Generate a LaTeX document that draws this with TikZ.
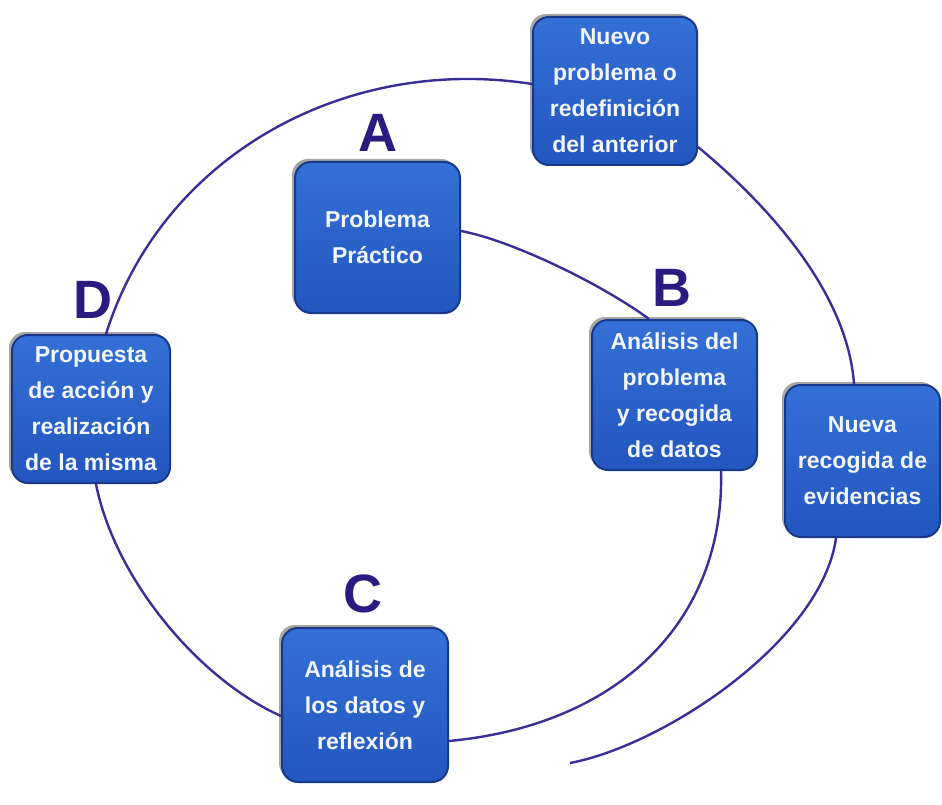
\documentclass[tikz,border=0pt]{standalone}
\usepackage{fontspec}
\setmainfont{Liberation Sans}
\usetikzlibrary{calc,shadows}
\definecolor{boxtop}{HTML}{3470D6}
\definecolor{boxbot}{HTML}{2356BE}
\definecolor{boxedge}{HTML}{18398A}
\definecolor{linec}{HTML}{3A2E98}
\definecolor{letterc}{HTML}{2B1A80}
\definecolor{txtc}{HTML}{F2F6FF}
\begin{document}
\begin{tikzpicture}[x=1pt,y=-1pt,
  stepbox/.style={rectangle, rounded corners=16pt, top color=boxtop, bottom color=boxbot,
    draw=boxedge, line width=2pt, text=txtc, align=center, inner sep=0pt,
    font=\fontsize{23}{36}\selectfont\bfseries,
    drop shadow={shadow xshift=-3pt, shadow yshift=3pt, fill=gray!70, opacity=1}},
  letter/.style={text=letterc, inner sep=0pt, font=\fontsize{54}{54}\selectfont\bfseries},
  conn/.style={draw=linec, line width=2.4pt}]
\useasboundingbox[fill=white] (0,0) rectangle (942,805);

% boxes
\node[stepbox, minimum width=165pt, minimum height=151pt] (A) at (377.5,237.5) {Problema\\Práctico};
\node[stepbox, minimum width=164pt, minimum height=148pt] (N) at (615,91) {Nuevo\\problema o\\redefinición\\del anterior};
\node[stepbox, minimum width=165pt, minimum height=150pt] (B) at (674.5,395) {Análisis del\\problema\\y recogida\\de datos};
\node[stepbox, minimum width=155pt, minimum height=152pt] (E) at (862.5,461) {Nueva\\recogida de\\evidencias};
\node[stepbox, minimum width=158pt, minimum height=148pt] (D) at (91,409) {Propuesta\\de acción y\\realización\\de la misma};
\node[stepbox, minimum width=166pt, minimum height=154pt] (C) at (365,705) {Análisis de\\los datos y\\reflexión};

% letters
\node[letter] (LA) at (378,133) {A};
\node[letter] (LB) at (672,288) {B};
\node[letter] (LC) at (363,594) {C};
\node[letter] (LD) at (93,300) {D};

% free end of the outer spiral
\coordinate (tail) at (570,763);

% inner cycle
\draw[conn] ($(A.north east)+(0,70)$) .. controls (510,240) and (600,283) .. ($(B.north west)+(58,0)$);
\draw[conn] ($(B.south west)+(130,0)$) .. controls (725,620) and (620,725) .. ($(C.north east)+(0,114)$);
\draw[conn] ($(C.north west)+(0,89)$) .. controls (200,680) and (115,580) .. ($(D.south west)+(85,0)$);
% outer cycle
\draw[conn] ($(D.north west)+(95,0)$) .. controls (163,153) and (348,55) .. ($(N.north west)+(0,68)$);
\draw[conn] ($(N.north east)+(0,131)$) .. controls (780,215) and (848,300) .. ($(E.north west)+(70,0)$);
\draw[conn] ($(E.south west)+(52,0)$) .. controls (822,640) and (665,745) .. (tail);
\end{tikzpicture}
\end{document}
